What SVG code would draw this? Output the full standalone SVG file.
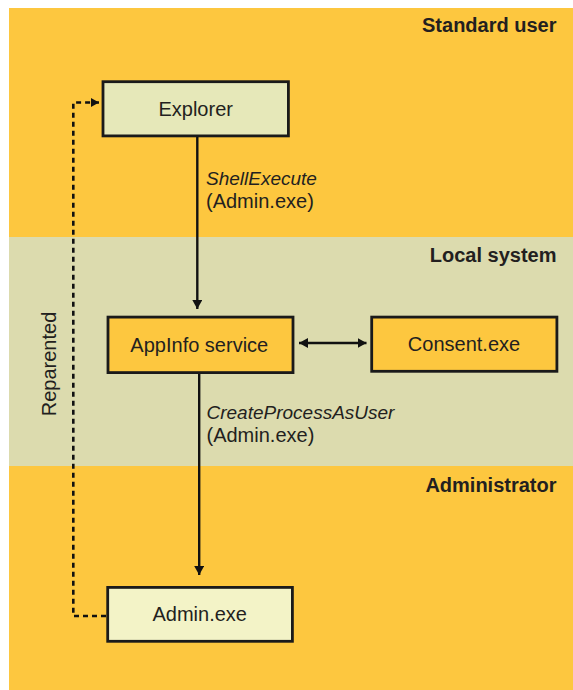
<svg xmlns="http://www.w3.org/2000/svg" width="573" height="690" viewBox="0 0 573 690">
<defs>
<style>
.band-y{fill:#FDC73F}
.band-t{fill:#DCDBAE}
.hdr{font-family:"Liberation Sans",Arial,sans-serif;font-weight:bold;font-size:20px;fill:#231F20;text-anchor:end}
.box{stroke:#1A1A1A;stroke-width:2.8}
.lbl{font-family:"Liberation Sans",Arial,sans-serif;font-size:20px;fill:#231F20;text-anchor:middle}
.cl{font-family:"Liberation Sans",Arial,sans-serif;font-size:20px;fill:#231F20}
.it{font-style:italic;font-size:19px}
.ln{fill:none;stroke:#111;stroke-width:2.4}
.dash{fill:none;stroke:#111;stroke-width:2.6;stroke-dasharray:5 4}
</style>
<marker id="ah" markerUnits="userSpaceOnUse" markerWidth="9" markerHeight="10" viewBox="0 0 9 10" refX="9" refY="5" orient="auto-start-reverse">
<path d="M0,0 L9,5 L0,10 z" fill="#111"/>
</marker>
<marker id="ahs" markerUnits="userSpaceOnUse" markerWidth="8" markerHeight="9" viewBox="0 0 8 9" refX="8" refY="4.5" orient="auto">
<path d="M0,0 L8,4.5 L0,9 z" fill="#111"/>
</marker>
</defs>
<g id="bands">
<rect class="band-y" x="9" y="8" width="564" height="229"/>
<rect class="band-t" x="9" y="237" width="564" height="229"/>
<rect class="band-y" x="9" y="466" width="564" height="224"/>
<text class="hdr" x="556.5" y="32">Standard user</text>
<text class="hdr" x="556.5" y="262">Local system</text>
<text class="hdr" x="556.5" y="492">Administrator</text>
</g>
<g id="connectors">
<line class="ln" x1="197.3" y1="137" x2="197.3" y2="309" marker-end="url(#ah)"/>
<line class="ln" x1="199.2" y1="374" x2="199.2" y2="575" marker-end="url(#ah)"/>
<line class="ln" x1="299" y1="343" x2="366.5" y2="343" marker-start="url(#ah)" marker-end="url(#ah)"/>
<polyline class="dash" points="106,616 73.3,616 73.3,102.5 99,102.5" marker-end="url(#ahs)"/>
<text class="cl it" x="206" y="185">ShellExecute</text>
<text class="cl" x="206" y="208">(Admin.exe)</text>
<text class="cl it" x="206.5" y="419">CreateProcessAsUser</text>
<text class="cl" x="206.5" y="442">(Admin.exe)</text>
<text class="lbl" transform="translate(56,364) rotate(-90)">Reparented</text>
</g>
<g id="explorer">
<rect class="box" x="103" y="81.7" width="185.4" height="54.2" fill="#E6E8B9"/>
<text class="lbl" x="195.7" y="116">Explorer</text>
</g>
<g id="appinfo">
<rect class="box" x="108" y="317.1" width="185" height="55.5" fill="#FDC73F"/>
<text class="lbl" x="199.3" y="351.5">AppInfo service</text>
</g>
<g id="consent">
<rect class="box" x="371.7" y="317.1" width="185.2" height="54.2" fill="#FDC73F"/>
<text class="lbl" x="464" y="350.7">Consent.exe</text>
</g>
<g id="admin">
<rect class="box" x="107.7" y="587.4" width="184.7" height="53.9" fill="#F3F3C7"/>
<text class="lbl" x="199.7" y="621">Admin.exe</text>
</g>
</svg>
